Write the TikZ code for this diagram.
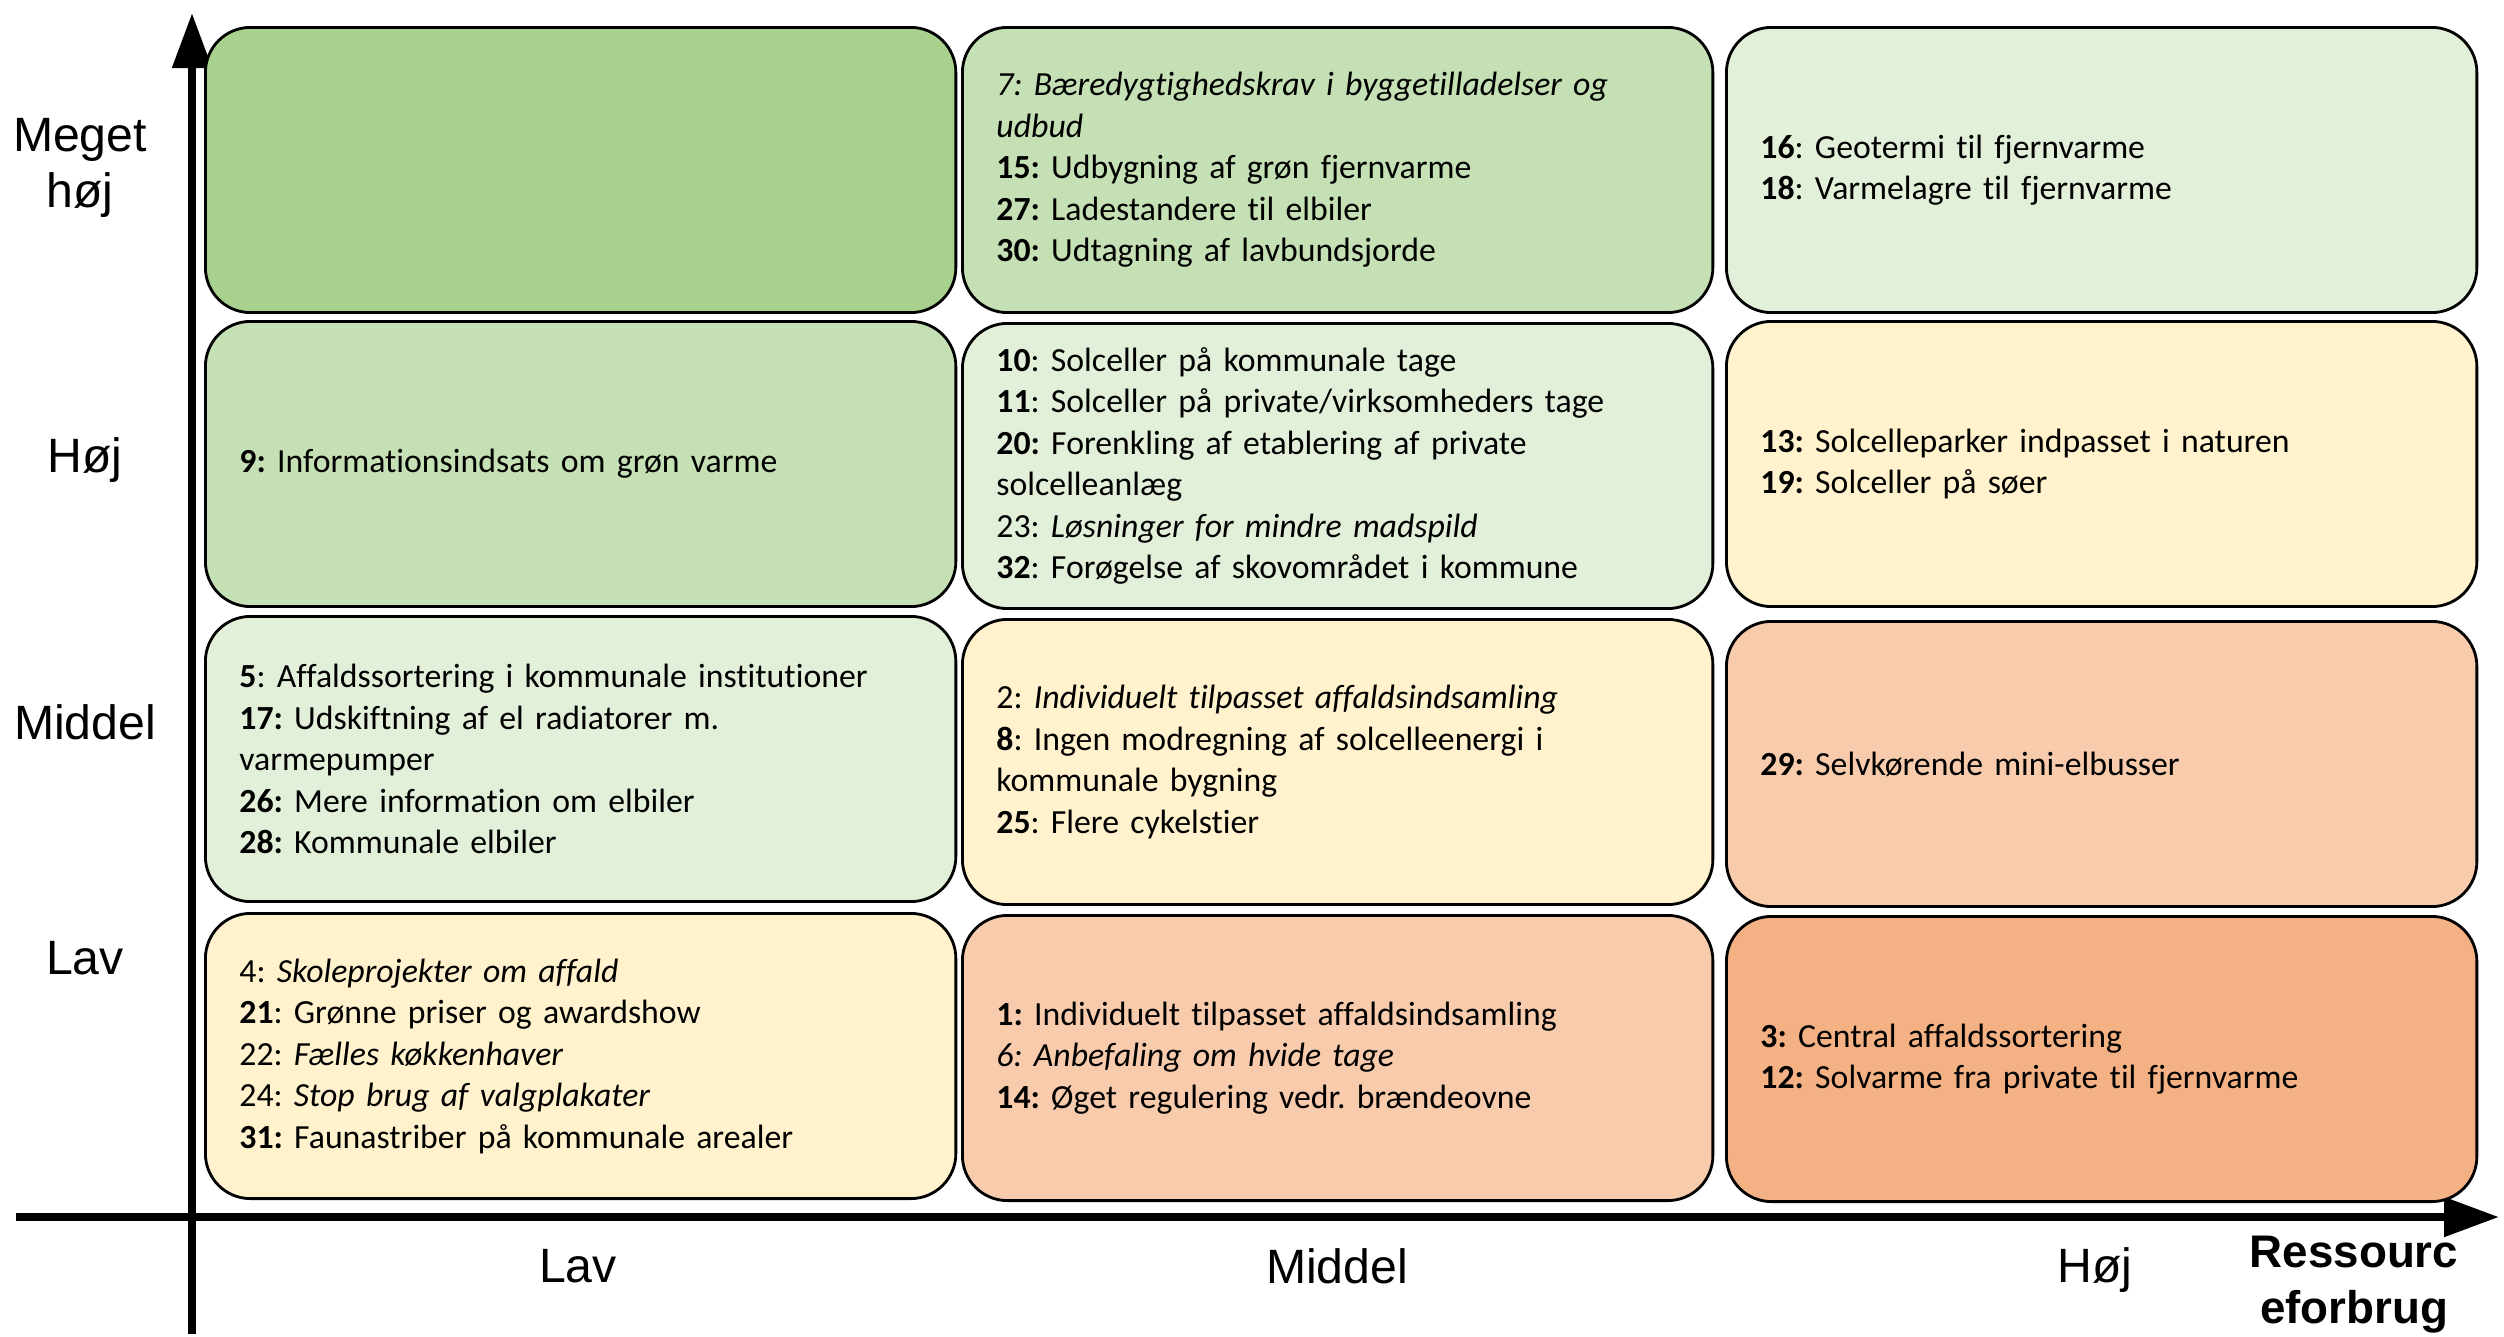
\documentclass[tikz,border=0pt]{standalone}
\usepackage{fontspec}
\setmainfont{Carlito}[Ligatures=NoCommon]
\newfontfamily\axisfont{Liberation Sans}
\usepackage{xcolor}
\usetikzlibrary{arrows.meta}
\frenchspacing

\definecolor{greenA}{HTML}{A9D18E}
\definecolor{greenB}{HTML}{C5E0B4}
\definecolor{greenC}{HTML}{E2F0D9}
\definecolor{goldA}{HTML}{FFF2CC}
\definecolor{orangeA}{HTML}{F8CBAD}
\definecolor{orangeB}{HTML}{F4B183}

\begin{document}
\begin{tikzpicture}[x=0.01cm,y=-0.01cm,
    cell/.style={draw=black,line width=0.8pt,rounded corners=0.45cm,anchor=north west,
      minimum width=7.5cm,minimum height=2.85cm,text width=6.82cm,inner xsep=0.34cm,
      inner ysep=0pt,align=left,font=\fontsize{9.6}{11.8}\selectfont},
    axis/.style={line width=2.3pt,-{Triangle[length=0.55cm,width=0.38cm]}},
    axislabel/.style={font=\axisfont\fontsize{13.7}{15.9}\selectfont,align=center}]
    \useasboundingbox (0,0) rectangle (2504,1336);

    % axes
    \coordinate (ybot) at (192,1334);
    \coordinate (ytop) at (192,13);
    \coordinate (xleft) at (16,1217);
    \coordinate (xright) at (2499,1217);
    \draw[axis] (ybot) -- (ytop);
    \draw[axis] (xleft) -- (xright);

    % row: Meget hoej
    \node[cell,fill=greenA] (c11) at (204,26) {};
    \node[cell,fill=greenB] (c12) at (961,26) {\textit{7: Bæredygtighedskrav i byggetilladelser og}\\\textit{udbud}\\\textbf{15:} Udbygning af grøn fjernvarme\\\textbf{27:} Ladestandere til elbiler\\\textbf{30:} Udtagning af lavbundsjorde};
    \node[cell,fill=greenC] (c13) at (1725,26) {\textbf{16}: Geotermi til fjernvarme\\\textbf{18}: Varmelagre til fjernvarme};

    % row: Hoej
    \node[cell,fill=greenB] (c21) at (204,320) {\textbf{9:} Informationsindsats om grøn varme};
    \node[cell,fill=greenC] (c22) at (961,322) {\textbf{10}: Solceller på kommunale tage\\\textbf{11}: Solceller på private/virksomheders tage\\\textbf{20:} Forenkling af etablering af private\\solcelleanlæg\\23: \textit{Løsninger for mindre madspild}\\\textbf{32}: Forøgelse af skovområdet i kommune};
    \node[cell,fill=goldA] (c23) at (1725,320) {\textbf{13:} Solcelleparker indpasset i naturen\\\textbf{19:} Solceller på søer};

    % row: Middel
    \node[cell,fill=greenC] (c31) at (204,615) {\textbf{5}: Affaldssortering i kommunale institutioner\\\textbf{17:} Udskiftning af el radiatorer m.\\varmepumper\\\textbf{26:} Mere information om elbiler\\\textbf{28:} Kommunale elbiler};
    \node[cell,fill=goldA] (c32) at (961,618) {2: \textit{Individuelt tilpasset affaldsindsamling}\\\textbf{8}: Ingen modregning af solcelleenergi i\\kommunale bygning\\\textbf{25}: Flere cykelstier};
    \node[cell,fill=orangeA] (c33) at (1725,620) {\textbf{29:} Selvkørende mini-elbusser};

    % row: Lav
    \node[cell,fill=goldA] (c41) at (204,912) {4: \textit{Skoleprojekter om affald}\\\textbf{21}: Grønne priser og awardshow\\22: \textit{Fælles køkkenhaver}\\24: \textit{Stop brug af valgplakater}\\\textbf{31:} Faunastriber på kommunale arealer};
    \node[cell,fill=orangeA] (c42) at (961,914) {\textbf{1:} Individuelt tilpasset affaldsindsamling\\\textit{6: Anbefaling om hvide tage}\\\textbf{14:} Øget regulering vedr. brændeovne};
    \node[cell,fill=orangeB] (c43) at (1725,915) {\textbf{3:} Central affaldssortering\\\textbf{12:} Solvarme fra private til fjernvarme};

    % labels
    \node[axislabel] (ymeget) at (80,168) {Meget\\høj};
    \node[axislabel] (yhoej) at (85,460) {Høj};
    \node[axislabel] (ymiddel) at (85,722) {Middel};
    \node[axislabel] (ylav) at (85,958) {Lav};
    \node[axislabel] (xlav) at (578,1266) {Lav};
    \node[axislabel] (xmiddel) at (1337,1266) {Middel};
    \node[axislabel] (xhoej) at (2095,1270) {Høj};
    \node[axislabel,font=\axisfont\bfseries\fontsize{13}{15.9}\selectfont] (xtitle) at (2354,1285) {Ressourc\\eforbrug};
  \end{tikzpicture}
\end{document}
